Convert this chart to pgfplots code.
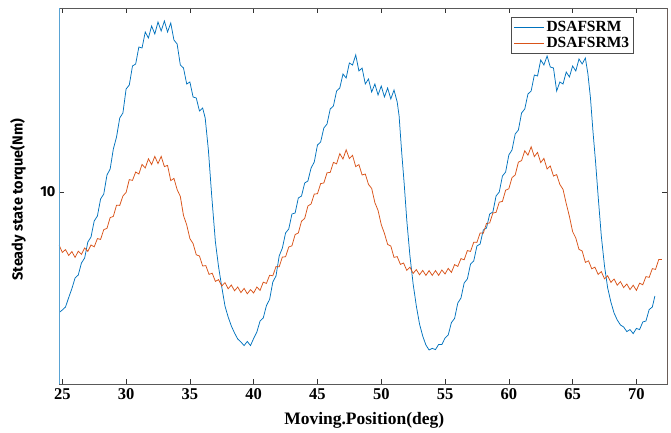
\documentclass[border=0pt]{standalone}
\usepackage{fontspec}
\setmainfont{Liberation Serif}
\newfontfamily\ysans{Fira Sans}
\usepackage{pgfplots}
\pgfplotsset{compat=1.18}
\definecolor{mblue}{HTML}{0072BD}
\definecolor{morange}{HTML}{D95319}

\begin{document}
\begin{tikzpicture}
\path[use as bounding box] (-59pt,-49pt) rectangle (612pt,384pt);
\begin{axis}[
  at={(0,0)}, anchor=south west,
  scale only axis, width=608pt, height=376pt,
  xmin=24.74, xmax=72.4, ymin=0.4, ymax=19.2,
  xtick={25,30,...,70}, ytick={10},
  /pgf/number format/assume math mode=true,
  tick align=inside, major tick length=5pt,
  axis line style={black!65, line width=0.6pt},
  tick style={black!80, line width=0.6pt},
  x tick label style={font=\fontsize{16.5}{16.5}\selectfont\bfseries, yshift=-1pt},
  y tick label style={font=\ysans\fontsize{14.5}{14.5}\selectfont\bfseries},
  xlabel={Moving.Position(deg)},
  xlabel style={font=\fontsize{17.5}{17.5}\selectfont\bfseries,
    at={(axis description cs:0.502,-0.096)}, anchor=center},
  ylabel={Steady state torque(Nm)},
  ylabel style={font=\ysans\fontsize{14.5}{14.5}\selectfont\bfseries,
    at={(axis description cs:-0.0674,0.49)}, anchor=center},
  legend style={at={(0.945,0.976)}, anchor=north east,
    font=\fontsize{15.5}{15.5}\selectfont\bfseries, draw=black!70,
    line width=0.8pt, inner xsep=2pt, inner ysep=2pt, row sep=0pt},
  legend cell align=left,
  legend image code/.code={\draw[#1, line width=0.75pt] (0pt,0pt) -- (30pt,0pt);},
  every axis plot/.append style={line width=0.75pt},
]
\addplot[mblue] coordinates {
(24.8,4.0) (25.0,4.1) (25.25,4.25) (25.5,4.72) (25.75,5.17) (26.0,5.7) (26.25,5.85)
(26.5,6.45) (26.75,6.7) (27.0,7.5) (27.25,7.75) (27.5,8.55) (27.75,8.8) (28.0,9.65)
(28.25,9.9) (28.5,10.85) (28.75,11.15) (29.0,12.15) (29.25,12.75) (29.5,13.7) (29.75,13.95)
(30.0,15.15) (30.25,15.35) (30.5,16.3) (30.75,16.4) (31.0,17.25) (31.25,17.2) (31.5,18.0)
(31.75,17.7) (32.0,18.3) (32.25,17.9) (32.5,18.5) (32.75,18.05) (33.0,18.55) (33.25,18.0)
(33.5,18.45) (33.75,17.6) (34.0,17.4) (34.25,16.35) (34.5,16.2) (34.75,15.4) (35.0,15.5)
(35.25,14.75) (35.5,14.7) (35.75,14.05) (36.0,14.2) (36.2,13.7) (36.45,12.1) (36.7,9.9)
(37.0,7.5) (37.25,6.25) (37.5,5.25) (37.75,4.3) (38.0,3.75) (38.25,3.3) (38.5,2.95)
(38.75,2.65) (39.0,2.5) (39.25,2.32) (39.5,2.53) (39.75,2.32) (40.0,2.68) (40.25,3.0)
(40.5,3.55) (40.75,3.7) (41.0,4.32) (41.25,4.63) (41.5,5.5) (41.75,5.8) (42.0,6.8)
(42.25,7.2) (42.5,7.95) (42.75,8.15) (43.0,8.9) (43.25,8.95) (43.5,9.7) (43.75,9.8)
(44.0,10.45) (44.25,10.55) (44.5,11.2) (44.75,11.5) (45.0,12.35) (45.25,12.5) (45.5,13.2)
(45.75,13.4) (46.0,14.15) (46.25,14.3) (46.5,15.05) (46.75,15.2) (47.0,15.9) (47.25,15.7)
(47.5,16.45) (47.75,16.35) (48.0,16.85) (48.25,16.05) (48.5,16.2) (48.75,15.4) (49.0,15.65)
(49.25,15.0) (49.5,15.4) (49.75,14.85) (50.0,15.3) (50.25,14.75) (50.5,15.2) (50.75,14.65)
(51.0,15.1) (51.25,14.5) (51.4,13.8) (51.6,12.0) (51.8,10.4) (52.0,8.6) (52.25,6.8)
(52.5,5.4) (52.75,4.3) (53.0,3.4) (53.25,2.8) (53.5,2.35) (53.75,2.1) (54.0,2.18)
(54.25,2.12) (54.5,2.38) (54.75,2.37) (55.0,2.7) (55.25,2.85) (55.5,3.47) (55.75,3.68)
(56.0,4.45) (56.25,4.7) (56.5,5.45) (56.75,5.65) (57.0,6.4) (57.25,6.55) (57.5,7.3)
(57.75,7.4) (58.0,8.1) (58.25,8.2) (58.5,8.9) (58.75,9.0) (59.0,9.8) (59.25,10.0)
(59.5,10.8) (59.75,11.0) (60.0,11.85) (60.25,12.1) (60.5,12.9) (60.75,13.1) (61.0,13.95)
(61.25,14.15) (61.5,14.9) (61.75,15.05) (62.0,15.85) (62.25,15.8) (62.5,16.6) (62.75,16.35)
(63.0,16.8) (63.25,16.25) (63.5,16.2) (63.75,15.05) (64.0,15.5) (64.25,15.4) (64.5,16.0)
(64.75,15.75) (65.0,16.3) (65.25,16.05) (65.5,16.65) (65.75,16.4) (66.0,16.7) (66.2,15.9)
(66.4,14.7) (66.6,13.0) (66.8,11.5) (67.0,9.8) (67.25,7.8) (67.5,6.3) (67.75,5.2)
(68.0,4.5) (68.25,3.95) (68.5,3.6) (68.75,3.35) (69.0,3.25) (69.25,3.02) (69.5,3.12)
(69.75,2.92) (70.0,3.18) (70.25,3.12) (70.5,3.5) (70.75,3.55) (71.0,4.12) (71.25,4.25)
(71.45,4.8)};
\addlegendentry{DSAFSRM}
\addplot[morange] coordinates {
(24.75,7.34) (25.0,6.98) (25.25,7.12) (25.5,6.83) (25.75,7.02) (26.0,6.73) (26.25,7.04)
(26.5,6.88) (26.75,7.2) (27.0,7.03) (27.25,7.35) (27.5,7.26) (27.75,7.67) (28.0,7.63)
(28.25,8.12) (28.5,8.18) (28.75,8.72) (29.0,8.78) (29.25,9.34) (29.5,9.33) (29.75,9.8)
(30.0,9.98) (30.25,10.62) (30.5,10.58) (30.75,11.0) (31.0,10.9) (31.25,11.38) (31.5,11.2)
(31.75,11.66) (32.0,11.37) (32.25,11.78) (32.5,11.42) (32.75,11.78) (33.0,11.27) (33.25,11.33)
(33.5,10.57) (33.75,10.68) (34.0,10.12) (34.25,9.78) (34.5,8.82) (34.75,8.36) (35.0,7.67)
(35.25,7.42) (35.5,6.86) (35.75,6.8) (36.0,6.3) (36.25,6.32) (36.5,5.88) (36.75,5.94)
(37.0,5.53) (37.25,5.62) (37.5,5.3) (37.75,5.47) (38.0,5.16) (38.25,5.35) (38.5,5.06)
(38.75,5.25) (39.0,4.97) (39.25,5.18) (39.5,4.91) (39.75,5.12) (40.0,4.95) (40.25,5.25)
(40.5,5.08) (40.75,5.49) (41.0,5.43) (41.25,5.84) (41.5,5.81) (41.75,6.27) (42.0,6.26)
(42.25,6.75) (42.5,6.76) (42.75,7.25) (43.0,7.31) (43.25,7.87) (43.5,7.95) (43.75,8.54)
(44.0,8.68) (44.25,9.3) (44.5,9.4) (44.75,9.9) (45.0,9.91) (45.25,10.42) (45.5,10.45)
(45.75,10.96) (46.0,10.98) (46.25,11.48) (46.5,11.41) (46.75,11.92) (47.0,11.65) (47.25,12.11)
(47.5,11.67) (47.75,11.83) (48.0,11.27) (48.25,11.37) (48.5,10.85) (48.75,10.9) (49.0,10.38)
(49.25,10.18) (49.5,9.47) (49.75,9.08) (50.0,8.37) (50.25,7.93) (50.5,7.38) (50.75,7.3)
(51.0,6.73) (51.25,6.77) (51.5,6.38) (51.75,6.45) (52.0,6.08) (52.25,6.24) (52.5,5.93)
(52.75,6.12) (53.0,5.86) (53.25,6.08) (53.5,5.83) (53.75,6.07) (54.0,5.83) (54.25,6.07)
(54.5,5.83) (54.75,6.1) (55.0,5.9) (55.25,6.18) (55.5,5.98) (55.75,6.37) (56.0,6.28)
(56.25,6.67) (56.5,6.61) (56.75,7.07) (57.0,7.03) (57.25,7.49) (57.5,7.48) (57.75,7.95)
(58.0,7.94) (58.25,8.43) (58.5,8.45) (58.75,8.95) (59.0,8.98) (59.25,9.49) (59.5,9.53)
(59.75,10.09) (60.0,10.16) (60.25,10.72) (60.5,10.85) (60.75,11.49) (61.0,11.57) (61.25,12.06)
(61.5,11.84) (61.75,12.26) (62.0,11.77) (62.25,11.98) (62.5,11.47) (62.75,11.68) (63.0,11.15)
(63.25,11.3) (63.5,10.8) (63.75,10.87) (64.0,10.38) (64.25,10.13) (64.5,9.42) (64.75,8.78)
(65.0,8.02) (65.25,7.7) (65.5,7.13) (65.75,7.05) (66.0,6.48) (66.25,6.56) (66.5,6.16)
(66.75,6.24) (67.0,5.88) (67.25,6.02) (67.5,5.66) (67.75,5.81) (68.0,5.48) (68.25,5.65)
(68.5,5.34) (68.75,5.52) (69.0,5.22) (69.25,5.4) (69.5,5.12) (69.75,5.34) (70.0,5.08)
(70.25,5.44) (70.5,5.36) (70.75,5.77) (71.0,5.73) (71.25,6.17) (71.5,6.13) (71.75,6.62)
(72.0,6.63)};
\addlegendentry{DSAFSRM3}
\draw[mblue!65, line width=0.9pt] (rel axis cs:0,0) -- (rel axis cs:0,1);
\draw[morange!75, line width=0.9pt] (rel axis cs:1,0) -- (rel axis cs:1,1);
\end{axis}
\end{tikzpicture}
\end{document}
